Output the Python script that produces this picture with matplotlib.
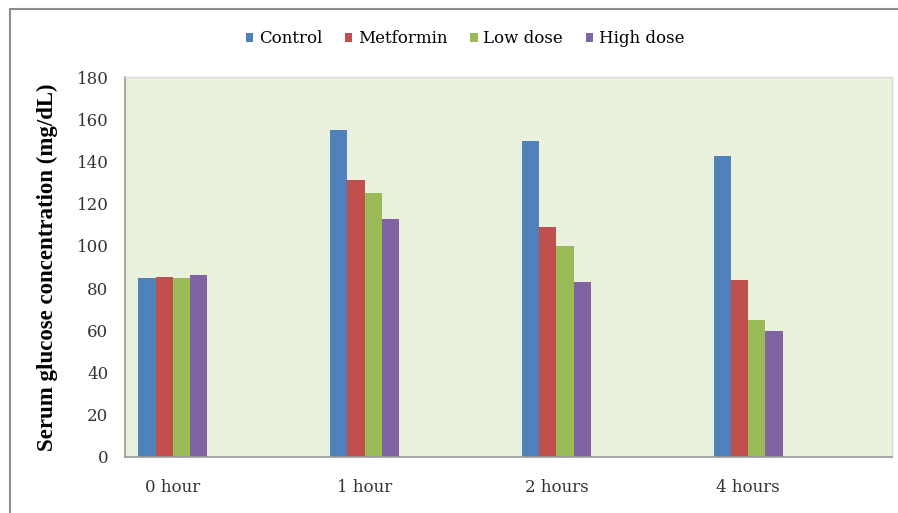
import numpy as np
import matplotlib.pyplot as plt
from matplotlib.patches import Rectangle

plt.rcParams['font.family'] = ['DejaVu Serif', 'Liberation Serif']

# Data
time_points = ['0 hour', '1 hour', '2 hours', '4 hours']
control = [84.6, 154.9, 149.8, 142.6]
metformin = [85.4, 131.2, 109.1, 83.7]
low_dose = [84.6, 125.2, 99.9, 64.9]
high_dose = [86.0, 112.6, 83.1, 59.8]

series = {
    'Control': (control, '#4F81BD'),
    'Metformin': (metformin, '#C0504D'),
    'Low dose': (low_dose, '#9BBB59'),
    'High dose': (high_dose, '#8064A2'),
}

fig = plt.figure(figsize=(8.98, 5.13), dpi=100)
ax = fig.add_axes([0.1392, 0.1092, 0.9933 - 0.1392, 0.8499 - 0.1092])

# outer chart frame
fig.patches.append(Rectangle((10 / 898, -0.05), 1.0, 1 - 9 / 513 + 0.05,
                             transform=fig.transFigure, fill=False,
                             edgecolor='#8c8c8c', linewidth=1.5))

x = np.arange(len(time_points))
bar_w = 0.09
for i, (name, (vals, color)) in enumerate(series.items()):
    ax.bar(x + (i - 1.5) * bar_w, vals, bar_w, color=color, label=name, zorder=2)

ax.set_facecolor('#EAF1DD')
ax.set_xlim(-0.25, 3.75)
ax.set_ylim(0, 180)
ax.set_yticks(range(0, 181, 20))
ax.set_xticks(x)
ax.set_xticklabels(time_points)
ax.tick_params(axis='both', length=0, labelsize=12, colors='#333333')
ax.tick_params(axis='y', pad=12)
ax.tick_params(axis='x', pad=16)

for side in ['top', 'right']:
    ax.spines[side].set_color('#d9d9d9')
    ax.spines[side].set_linewidth(1)
for side in ['left', 'bottom']:
    ax.spines[side].set_color('#9a9a9a')
    ax.spines[side].set_linewidth(1.2)

ax.set_ylabel('Serum glucose concentration (mg/dL)', fontsize=16.5,
              fontweight='bold', family='Liberation Serif', labelpad=13)

handles, labels = ax.get_legend_handles_labels()
fig.legend(handles, labels, loc='center', bbox_to_anchor=(465 / 898, 1 - 39 / 513),
           ncol=4, frameon=False, fontsize=12, handlelength=0.45, handleheight=0.45,
           handletextpad=0.35, columnspacing=1.35)

fig.savefig('out.png', dpi=100)
